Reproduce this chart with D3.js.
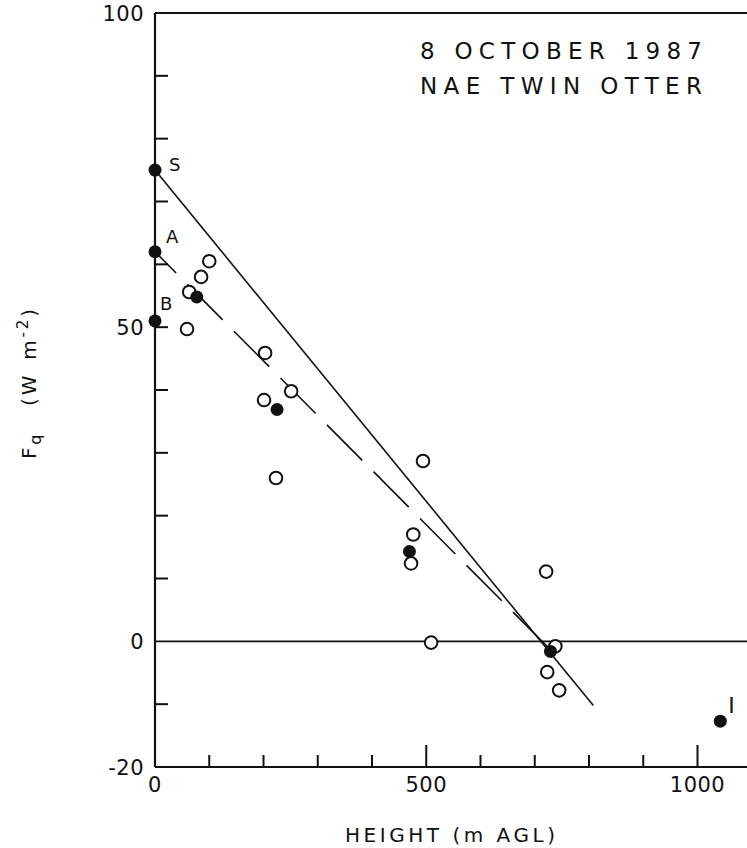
<!DOCTYPE html>
<html>
<head>
<meta charset="utf-8">
<script src="https://cdn.jsdelivr.net/npm/d3@7"></script>
<style>
  html, body { margin: 0; padding: 0; background: #fff; }
  svg { display: block; }
  text { font-family: "DejaVu Sans", "Liberation Sans", sans-serif; fill: #111; }
</style>
</head>
<body>
<script>
// Aircraft flux profile: latent heat flux Fq against height
const filledHeight = [0, 0, 0, 77, 225, 469, 729, 1042];
const filledFlux   = [75, 62, 51, 54.8, 36.9, 14.3, -1.6, -12.7];
const filledTag    = ["S", "A", "B", "", "", "", "", "I"];

const openHeight = [100, 85, 63, 59, 203, 201, 251, 223, 494, 476, 472, 509, 721, 738, 723, 745];
const openFlux   = [60.5, 58, 55.6, 49.7, 45.9, 38.4, 39.8, 26, 28.7, 17, 12.4, -0.2, 11.1, -0.8, -4.9, -7.8];

// fitted profiles (solid from S, dashed from A)
const solidFitHeight  = [0, 808];
const solidFitFlux    = [75, -10.2];
const dashedFitHeight = [0, 725];
const dashedFitFlux   = [62, -1];

const xTickValues = d3.range(0, 1001, 100);
const xTickLabels = [0, 500, 1000];
const yTickValues = d3.range(-20, 101, 10);
const yTickLabels = [-20, 0, 50, 100];

const titleLines = ["8 OCTOBER 1987", "NAE TWIN OTTER"];

const W = 747, H = 848;
const svg = d3.select("body").append("svg").attr("width", W).attr("height", H);

const x = d3.scaleLinear().domain([0, 1100]).range([155, 751.75]);
const y = d3.scaleLinear().domain([-20, 100]).range([767, 13]);

const ink = "#111";

// frame: left axis, bottom axis, top border
const g = svg.append("g").attr("stroke", ink).attr("fill", "none");
g.append("line").attr("x1", x(0)).attr("x2", x(0)).attr("y1", y(100)).attr("y2", y(-20)).attr("stroke-width", 2.2);
g.append("line").attr("x1", x(0)).attr("x2", W).attr("y1", y(-20)).attr("y2", y(-20)).attr("stroke-width", 2.2);
g.append("line").attr("x1", x(0)).attr("x2", W).attr("y1", y(100)).attr("y2", y(100)).attr("stroke-width", 1.8);
// zero line
g.append("line").attr("x1", x(0)).attr("x2", W).attr("y1", y(0)).attr("y2", y(0)).attr("stroke-width", 1.8);

// inward ticks on the height axis
g.selectAll(".xt").data(xTickValues.filter(v => v > 0)).join("line")
  .attr("x1", d => x(d)).attr("x2", d => x(d))
  .attr("y1", y(-20)).attr("y2", d => y(-20) - (d % 500 === 0 ? 22 : 12))
  .attr("stroke-width", 2);

// inward ticks on the flux axis
g.selectAll(".yt").data(yTickValues.filter(v => v > -20 && v < 100 && v !== 0)).join("line")
  .attr("x1", x(0)).attr("x2", x(0) + 13)
  .attr("y1", d => y(d)).attr("y2", d => y(d))
  .attr("stroke-width", 2);

// tick labels
svg.selectAll(".xl").data(xTickLabels).join("text")
  .attr("x", d => x(d)).attr("y", 792)
  .attr("text-anchor", "middle")
  .attr("font-size", 21).attr("letter-spacing", 0.5)
  .text(d => d);

svg.selectAll(".yl").data(yTickLabels).join("text")
  .attr("x", 144).attr("y", d => y(d) + 8)
  .attr("text-anchor", "end")
  .attr("font-size", 21).attr("letter-spacing", 0.5)
  .text(d => d);

// axis titles
svg.append("text")
  .attr("x", 450).attr("y", 842)
  .attr("text-anchor", "middle")
  .attr("font-size", 20)
  .attr("textLength", 210).attr("lengthAdjust", "spacing")
  .text("HEIGHT  (m AGL)");

const yTitle = svg.append("text")
  .attr("transform", "translate(36,384) rotate(-90)")
  .attr("text-anchor", "middle")
  .attr("font-size", 20)
  .attr("textLength", 150).attr("lengthAdjust", "spacing");
yTitle.append("tspan").text("F");
yTitle.append("tspan").attr("font-size", 16).attr("dy", 5).text("q");
yTitle.append("tspan").attr("dy", -5).text("\u2002\u2002(W\u2002m");
yTitle.append("tspan").attr("font-size", 15).attr("dy", -8).text("-2");
yTitle.append("tspan").attr("dy", 8).text(")");

// title block
svg.selectAll(".title").data(titleLines).join("text")
  .attr("x", 420).attr("y", (d, i) => 59 + i * 35)
  .attr("font-size", 23)
  .attr("textLength", 282).attr("lengthAdjust", "spacing")
  .text(d => d);

// fitted lines
const line = d3.line().x(d => x(d[0])).y(d => y(d[1]));
svg.append("path")
  .attr("d", line(d3.zip(solidFitHeight, solidFitFlux)))
  .attr("fill", "none").attr("stroke", ink).attr("stroke-width", 1.6);
svg.append("path")
  .attr("d", line(d3.zip(dashedFitHeight, dashedFitFlux)))
  .attr("fill", "none").attr("stroke", ink).attr("stroke-width", 1.6)
  .attr("stroke-dasharray", "50 16").attr("stroke-dashoffset", 20);

// open circles
svg.selectAll(".open").data(d3.zip(openHeight, openFlux)).join("circle")
  .attr("cx", d => x(d[0])).attr("cy", d => y(d[1]))
  .attr("r", 6.3).attr("fill", "#fff").attr("stroke", ink).attr("stroke-width", 2);

// filled circles
svg.selectAll(".filled").data(d3.zip(filledHeight, filledFlux)).join("circle")
  .attr("cx", d => x(d[0])).attr("cy", d => y(d[1]))
  .attr("r", 6.5).attr("fill", ink);

// point tags
const tagOffset = { S: [14, 1], A: [11, -9], B: [5, -11], I: [8, -8] };
svg.selectAll(".tag").data(d3.range(filledTag.length).filter(i => filledTag[i])).join("text")
  .attr("x", i => x(filledHeight[i]) + tagOffset[filledTag[i]][0])
  .attr("y", i => y(filledFlux[i]) + tagOffset[filledTag[i]][1])
  .attr("font-size", i => filledTag[i] === "I" ? 22 : 18)
  .attr("font-family", i => filledTag[i] === "I" ? "Liberation Serif, serif" : null)
  .text(i => filledTag[i]);
</script>
</body>
</html>
